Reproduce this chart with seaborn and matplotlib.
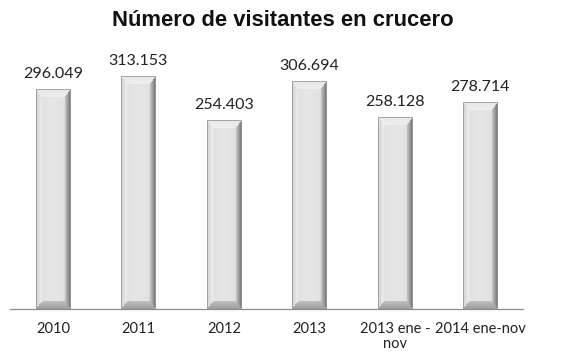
import numpy as np
import pandas as pd
import matplotlib
matplotlib.use("Agg")
import matplotlib.pyplot as plt
import seaborn as sns

periodos = ["2010", "2011", "2012", "2013", "2013 ene -\nnov", "2014 ene-nov"]
visitantes = [296049, 313153, 254403, 306694, 258128, 278714]
titulo = "Número de visitantes en crucero"

sns.set_theme(style="white")
plt.rcParams["font.family"] = ["Lato", "DejaVu Sans"]

df = pd.DataFrame({"periodo": periodos, "visitantes": visitantes})

fig = plt.figure(figsize=(5.66, 3.56), dpi=100)
ax = fig.add_axes([0.018, 0.132, 0.906, 0.73])

sns.barplot(data=df, x="periodo", y="visitantes", ax=ax, width=0.4,
            color="#dcdcdc", edgecolor="none", saturation=1)

XLIM = (-0.5, len(periodos) - 0.5)
YLIM = (0, 350000)
ax.set_xlim(*XLIM)
ax.set_ylim(*YLIM)


def bevel_image(nx, ny, bx, by):
    """Shaded bevelled bar face as an RGB array (row 0 at the top)."""
    img = np.full((ny, nx), 0.88)
    xs = np.arange(nx)
    u = (xs + 0.5) / nx
    img += 0.04 * np.sin(np.pi * u)[None, :] - 0.02
    for j in range(ny):
        for i in range(nx):
            dl, dr = i, nx - 1 - i
            dt, db = j, ny - 1 - j
            d = min(dl, dr, dt, db)
            if d >= max(bx, by):
                continue
            if dt < by and dt <= min(dl, dr) * by / bx:
                img[j, i] = 0.94 - 0.03 * (by - dt) / by
            elif db < by and db <= min(dl, dr) * by / bx:
                img[j, i] = 0.62 + 0.15 * db / by
            elif dl < bx:
                img[j, i] = 0.82 + 0.13 * dl / bx
            elif dr < bx:
                img[j, i] = 0.45 + 0.38 * dr / bx
    img = np.clip(img, 0, 1)
    return np.dstack([img, img, img])


# pixel size of each bar, taken before any image changes the limits
sizes = [(p.get_window_extent().width, p.get_window_extent().height)
         for p in ax.patches]

for patch, val, (pw, ph) in zip(ax.patches, visitantes, sizes):
    x0 = patch.get_x()
    w = patch.get_width()
    h = patch.get_height()
    nx = max(int(round(pw)), 4)
    ny = max(int(round(ph)), 4)
    img = bevel_image(nx, ny, 6, 8)
    im = ax.imshow(img, extent=[x0, x0 + w, 0, h], aspect="auto",
                   interpolation="bilinear", zorder=3)
    im.set_clip_path(patch)
    patch.set_edgecolor("#9a9a9a")
    patch.set_linewidth(0.6)
    patch.set_zorder(4)
    patch.set_facecolor("none")
    etiqueta = f"{val:,}".replace(",", ".")
    ax.annotate(etiqueta, (x0 + w / 2, h), xytext=(0, 6),
                textcoords="offset points", ha="center", va="bottom",
                fontsize=11.5, color="#222222")

ax.set_aspect("auto")
ax.set_xlim(*XLIM)
ax.set_ylim(*YLIM)

ax.set_xlabel("")
ax.set_ylabel("")
ax.set_yticks([])
ax.tick_params(axis="x", length=0, pad=9, labelsize=10.5, colors="#222222")
for lab in ax.get_xticklabels():
    lab.set_linespacing(1.15)
for side in ["top", "right", "left"]:
    ax.spines[side].set_visible(False)
ax.spines["bottom"].set_color("#8c8c8c")
ax.spines["bottom"].set_linewidth(0.9)

fig.suptitle(titulo, x=0.5, y=0.942, va="center", fontsize=15.8,
             fontweight="bold", family=["Liberation Sans", "DejaVu Sans"],
             color="#111111")

fig.savefig("out.png", dpi=100, facecolor="white")
